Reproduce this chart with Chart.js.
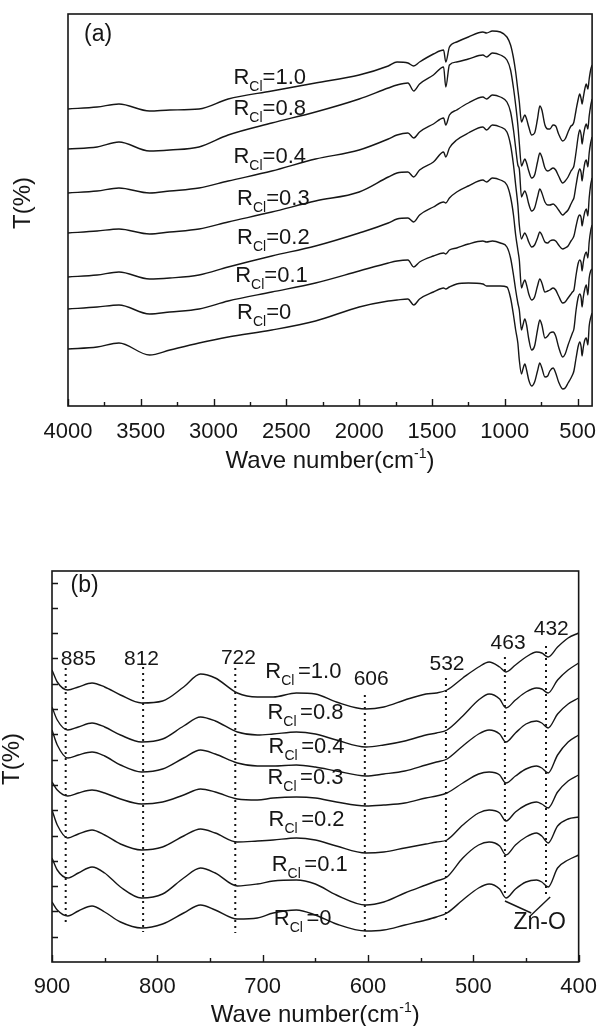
<!DOCTYPE html>
<html>
<head>
<meta charset="utf-8">
<script src="https://cdn.jsdelivr.net/npm/chart.js@4"></script>
<style>
    html, body { margin: 0; padding: 0; background: #fff; }
    body { width: 601px; height: 1026px; position: relative; overflow: hidden; }
    canvas { position: absolute; left: 0; }
    #chart_a { top: 0; }
    #chart_b { top: 490px; }
</style>
</head>
<body>
<canvas id="chart_a" width="601" height="490"></canvas>
<canvas id="chart_b" width="601" height="536"></canvas>
<script>
const series_names = ['1.0', '0.8', '0.4', '0.3', '0.2', '0.1', '0'];

// panel (a): 4000-400 cm-1, transmittance in arbitrary offset units
const wave_a = [4000, 3800, 3650, 3440, 3300, 3100, 2900, 2600, 2300, 2000, 1800, 1740, 1665, 1625, 1585, 1490, 1420, 1405, 1380, 1330,
    1250, 1150, 1125, 1085, 1030, 985, 960, 940, 925, 910,
    900, 885, 875, 862, 850, 835, 815, 795, 775, 759, 745, 724, 705, 690, 668, 650, 630, 602, 585, 565,
    545, 535, 525, 510, 495, 485, 475, 469, 460, 450, 440, 429, 420, 410, 400];
const t_a_10 = [297, 299, 302, 295, 296, 297, 307, 315, 323, 331, 340, 344, 343, 340, 344, 352, 356, 344, 359, 364,
    369, 374, 373, 375, 374, 369, 361, 348, 334, 316,
    304, 284, 287, 291, 287, 279, 271, 273, 287, 300, 296, 281, 277, 277, 281, 280, 272, 265, 267, 274,
    280, 281, 284, 296, 307, 312, 307, 302, 309, 317, 322, 317, 327, 336, 341];
const t_a_08 = [257, 259, 264, 255, 256, 259, 271, 283, 294, 307, 318, 321, 323, 315, 322, 331, 339, 319, 341, 344,
    347, 351, 349, 353, 351, 346, 336, 318, 301, 281,
    263, 240, 243, 247, 243, 235, 228, 231, 244, 253, 249, 238, 235, 236, 238, 236, 230, 223, 225, 229,
    235, 237, 240, 254, 270, 276, 271, 262, 270, 278, 282, 277, 290, 300, 307];
const t_a_04 = [213, 215, 218, 213, 215, 218, 225, 235, 247, 256, 267, 271, 273, 268, 274, 282, 288, 281, 291, 296,
    303, 309, 307, 311, 309, 304, 294, 276, 258, 241,
    237, 209, 212, 215, 211, 202, 195, 198, 209, 217, 213, 204, 201, 201, 202, 200, 196, 191, 193, 196,
    202, 205, 208, 221, 233, 237, 233, 225, 234, 243, 246, 239, 253, 263, 269];
const t_a_03 = [173, 175, 177, 172, 174, 177, 184, 194, 205, 214, 229, 233, 234, 229, 236, 244, 254, 249, 258, 266,
    273, 279, 276, 281, 279, 274, 261, 241, 221, 201,
    181, 167, 170, 173, 170, 164, 159, 161, 168, 174, 171, 164, 163, 165, 166, 165, 161, 157, 158, 160,
    165, 167, 170, 180, 189, 191, 188, 180, 187, 194, 197, 190, 208, 221, 228];
const t_a_02 = [129, 131, 134, 127, 128, 131, 139, 150, 160, 173, 183, 187, 188, 184, 191, 199, 204, 203, 208, 214,
    220, 226, 224, 228, 226, 221, 209, 191, 171, 156,
    146, 118, 122, 126, 121, 112, 106, 109, 120, 127, 123, 114, 115, 116, 118, 116, 110, 103, 104, 108,
    112, 114, 116, 131, 143, 146, 143, 135, 144, 151, 154, 148, 164, 175, 181];
const t_a_01 = [97, 99, 101, 92, 94, 97, 105, 114, 123, 135, 143, 145, 146, 139, 144, 150, 153, 152, 156, 158,
    162, 165, 164, 165, 163, 159, 148, 131, 116, 103,
    96, 76, 81, 87, 81, 67, 56, 60, 76, 86, 81, 68, 70, 73, 74, 70, 59, 49, 52, 61,
    69, 73, 77, 96, 109, 112, 108, 99, 109, 117, 121, 111, 128, 135, 137];
const t_a_0 = [57, 59, 63, 51, 56, 63, 69, 76, 85, 99, 105, 106, 107, 101, 107, 114, 118, 117, 119, 122,
    123, 122, 120, 120, 120, 119, 108, 91, 76, 63,
    46, 32, 37, 42, 36, 26, 20, 24, 35, 43, 38, 29, 30, 35, 38, 33, 24, 17, 18, 23,
    28, 31, 35, 48, 60, 64, 59, 50, 59, 66, 68, 61, 80, 88, 93];

// panel (b): 900-400 cm-1
const wave_b = [900, 895, 885, 875, 862, 850, 835, 815, 795, 775, 759, 745, 724, 705, 690, 668, 650, 630, 602, 585,
    565, 545, 535, 525, 510, 495, 485, 475, 469, 460, 450, 440, 435, 429, 420, 410, 400];
const t_b_10 = [292, 280, 272, 275, 279, 275, 267, 259, 261, 275, 288, 284, 269, 265, 265, 269, 268, 260, 253, 255,
    262, 268, 269, 272, 284, 295, 300, 295, 290, 297, 305, 310, 309, 305, 315, 324, 329];
const t_b_08 = [255, 242, 232, 235, 239, 235, 227, 220, 223, 236, 245, 241, 230, 227, 228, 230, 228, 222, 215, 217,
    221, 227, 229, 232, 246, 262, 268, 263, 254, 262, 270, 274, 273, 269, 282, 292, 299];
const t_b_04 = [232, 217, 204, 207, 210, 206, 197, 190, 193, 204, 212, 208, 199, 196, 196, 197, 195, 191, 186, 188,
    191, 197, 200, 203, 216, 228, 232, 228, 220, 229, 238, 241, 239, 234, 248, 258, 264];
const t_b_03 = [180, 172, 166, 169, 172, 169, 163, 158, 160, 167, 173, 170, 163, 162, 164, 165, 164, 160, 156, 157,
    159, 164, 166, 169, 179, 188, 190, 187, 179, 186, 193, 196, 194, 189, 207, 220, 227];
const t_b_02 = [152, 137, 124, 128, 132, 127, 118, 112, 115, 126, 133, 129, 120, 121, 122, 124, 122, 116, 109, 110,
    114, 118, 120, 122, 137, 149, 152, 149, 141, 150, 157, 160, 158, 154, 170, 181, 187];
const t_b_01 = [104, 92, 84, 89, 95, 89, 75, 64, 68, 84, 94, 89, 76, 78, 81, 82, 78, 67, 57, 60,
    69, 77, 81, 85, 104, 117, 120, 116, 107, 117, 125, 129, 126, 119, 136, 143, 145];
const t_b_0 = [60, 52, 46, 51, 56, 50, 40, 34, 38, 49, 57, 52, 43, 44, 49, 52, 47, 38, 31, 32,
    37, 42, 45, 49, 62, 74, 78, 73, 64, 73, 80, 82, 80, 75, 94, 102, 107];

// axis ticks
const ticks_a_major = [4000, 3500, 3000, 2500, 2000, 1500, 1000, 500];
const ticks_a_minor = [3750, 3250, 2750, 2250, 1750, 1250, 750];
const ticks_b_major = [900, 800, 700, 600, 500, 400];
const ticks_b_minor = [850, 750, 650, 550, 450];
const ticks_b_y = [25.3, 50.6, 75.9, 101.2, 126.5, 151.8, 177.1, 202.4, 227.7, 253, 278.3, 303.6, 328.9, 354.2, 379.5];

// label anchors (wavenumber, T)
const name_x_a = [2853, 2853, 2853, 2828, 2828, 2841, 2828];
const name_y_a = [330, 299, 251, 209, 170, 132, 95];
const name_x_b = [696, 694, 693, 694, 693, 690, 688];
const name_y_b = [292, 251, 217, 186, 144, 99, 45];

// marked bands in (b)
const peak_text = ['885', '812', '722', '606', '532', '463', '432'];
const peak_line_x = [887, 813.5, 726, 603, 526, 470, 431];
const peak_line_top = [294, 295, 294, 267, 284, 305, 316];
const peak_line_bottom = [37, 30, 29, 22, 39, 68, 68];
const peak_text_x = [875, 815, 723, 597, 525, 467, 426];
const peak_text_y = [303, 303, 304, 283, 298, 319, 333];
const zno_lines = [[[470, 61], [445, 49]], [[427, 65], [447, 45]]];
const zno_text = [437, 39];

const font_family = "'Liberation Sans', Arial, Helvetica, sans-serif";
const ink = '#161616';

function curve(xs, ys) {
    return {
        data: xs.map((x, i) => ({x: x, y: ys[i]})),
        borderColor: ink,
        borderWidth: 1.4,
        pointRadius: 0,
        fill: false,
        cubicInterpolationMode: 'monotone'
    };
}

function draw_name(ctx, x, ymid, value, gap) {
    const base = ymid + 7.5;
    ctx.textAlign = 'left';
    ctx.textBaseline = 'alphabetic';
    ctx.font = `22px ${font_family}`;
    ctx.fillText('R', x - 1.5, base);
    let cx = x - 1.5 + ctx.measureText('R').width;
    ctx.font = `14px ${font_family}`;
    ctx.fillText('Cl', cx, base + 7.5);
    cx += ctx.measureText('Cl').width + gap;
    ctx.font = `22px ${font_family}`;
    ctx.fillText('=' + value, cx, base);
}

function draw_x_title(ctx, cx, base) {
    const a = 'Wave number(cm', s = '-1', b = ')';
    ctx.textAlign = 'left';
    ctx.textBaseline = 'alphabetic';
    ctx.font = `24px ${font_family}`;
    const wa = ctx.measureText(a).width, wb = ctx.measureText(b).width;
    ctx.font = `14px ${font_family}`;
    const ws = ctx.measureText(s).width;
    let x = cx - (wa + ws + wb) / 2;
    ctx.font = `24px ${font_family}`;
    ctx.fillText(a, x, base);
    x += wa;
    ctx.font = `14px ${font_family}`;
    ctx.fillText(s, x, base - 10);
    x += ws;
    ctx.font = `24px ${font_family}`;
    ctx.fillText(b, x, base);
}

const panel_decor = {
    id: 'panel_decor',
    afterDraw(chart) {
        const d = chart.options.plugins.panel_decor;
        const ctx = chart.ctx;
        const area = chart.chartArea;
        const xs = chart.scales.x;
        const ys = chart.scales.y;
        ctx.save();
        ctx.strokeStyle = ink;
        ctx.fillStyle = ink;
        ctx.lineWidth = 1.6;
        ctx.strokeRect(area.left, area.top, area.right - area.left, area.bottom - area.top);

        ctx.lineWidth = 1.4;
        ctx.beginPath();
        d.x_major.forEach(v => {
            const px = Math.round(xs.getPixelForValue(v)) + 0.5;
            ctx.moveTo(px, area.bottom);
            ctx.lineTo(px, area.bottom - 7);
        });
        d.x_minor.forEach(v => {
            const px = Math.round(xs.getPixelForValue(v)) + 0.5;
            ctx.moveTo(px, area.bottom);
            ctx.lineTo(px, area.bottom - 4);
        });
        d.y_major.forEach(v => {
            const py = Math.round(ys.getPixelForValue(v)) + 0.5;
            ctx.moveTo(area.left, py);
            ctx.lineTo(area.left + 6, py);
        });
        ctx.stroke();

        // panel letter
        ctx.font = `23px ${font_family}`;
        ctx.textAlign = 'center';
        ctx.textBaseline = 'middle';
        ctx.fillText(d.letter, xs.getPixelForValue(d.letter_at[0]), ys.getPixelForValue(d.letter_at[1]));

        // series names
        series_names.forEach((n, i) => {
            draw_name(ctx, xs.getPixelForValue(d.name_x[i]), ys.getPixelForValue(d.name_y[i]), n, d.name_gap);
        });

        if (d.peaks) {
            ctx.font = `21px ${font_family}`;
            ctx.textAlign = 'center';
            ctx.textBaseline = 'middle';
            peak_text.forEach((t, i) => {
                ctx.fillText(t, xs.getPixelForValue(peak_text_x[i]), ys.getPixelForValue(peak_text_y[i]));
            });
            ctx.font = `23px ${font_family}`;
            ctx.fillText('Zn-O', xs.getPixelForValue(zno_text[0]), ys.getPixelForValue(zno_text[1]));
        }

        // axis titles
        draw_x_title(ctx, (area.left + area.right) / 2, area.bottom + d.x_title_gap);
        ctx.save();
        ctx.translate(d.y_title_x, ys.getPixelForValue(203));
        ctx.rotate(-Math.PI / 2);
        ctx.font = `24px ${font_family}`;
        ctx.textAlign = 'center';
        ctx.textBaseline = 'middle';
        ctx.fillText('T(%)', 0, 0);
        ctx.restore();

        ctx.restore();
    }
};

function make_scales(x_min, x_max, tick_values, y_max, y_width, x_height, tick_pad) {
    return {
        x: {
            type: 'linear',
            reverse: true,
            min: x_min,
            max: x_max,
            afterBuildTicks: s => { s.ticks = tick_values.map(v => ({value: v})); },
            afterFit: s => { s.height = x_height; },
            grid: { display: false },
            border: { display: false },
            ticks: {
                color: ink,
                font: { family: font_family, size: 22 },
                padding: tick_pad,
                maxRotation: 0,
                autoSkip: false,
                callback: v => String(v)
            }
        },
        y: {
            min: 0,
            max: y_max,
            afterFit: s => { s.width = y_width; },
            grid: { display: false },
            border: { display: false },
            ticks: { display: false }
        }
    };
}

const common_options = {
    responsive: false,
    animation: false,
    events: [],
    plugins: { legend: { display: false }, tooltip: { enabled: false } }
};

let chart_a = new Chart(document.getElementById('chart_a'), {
    type: 'line',
    data: {
        datasets: [t_a_10, t_a_08, t_a_04, t_a_03, t_a_02, t_a_01, t_a_0].map(t => curve(wave_a, t))
    },
    options: {
        ...common_options,
        layout: { padding: { left: 0, right: 4, top: 14, bottom: 0 } },
        scales: make_scales(400, 4000, ticks_a_major, 392, 68, 84, 5),
        plugins: {
            ...common_options.plugins,
            panel_decor: {
                x_major: ticks_a_major, x_minor: ticks_a_minor, y_major: [],
                letter: '(a)', letter_at: [3793, 371],
                name_x: name_x_a, name_y: name_y_a, name_gap: 0,
                peaks: false, x_title_gap: 62, y_title_x: 23
            }
        }
    },
    plugins: [panel_decor]
});

const marker_sets = peak_line_x.map((x, i) => ({
    data: [{x: x, y: peak_line_top[i]}, {x: x, y: peak_line_bottom[i]}],
    borderColor: ink,
    borderWidth: 2,
    borderDash: [2, 4],
    pointRadius: 0
}));
const zno_sets = zno_lines.map(seg => ({
    data: seg.map(p => ({x: p[0], y: p[1]})),
    borderColor: ink,
    borderWidth: 1.4,
    pointRadius: 0
}));

let chart_b = new Chart(document.getElementById('chart_b'), {
    type: 'line',
    data: {
        datasets: [t_b_10, t_b_08, t_b_04, t_b_03, t_b_02, t_b_01, t_b_0].map(t => curve(wave_b, t))
            .concat(marker_sets, zno_sets)
    },
    options: {
        ...common_options,
        layout: { padding: { left: 0, right: 18, top: 81, bottom: 0 } },
        scales: make_scales(400, 900, ticks_b_major, 391, 52, 64, 4),
        plugins: {
            ...common_options.plugins,
            panel_decor: {
                x_major: ticks_b_major, x_minor: ticks_b_minor, y_major: ticks_b_y,
                letter: '(b)', letter_at: [869, 376],
                name_x: name_x_b, name_y: name_y_b, name_gap: 3.5,
                peaks: true, x_title_gap: 60, y_title_x: 12
            }
        }
    },
    plugins: [panel_decor]
});
</script>
</body>
</html>
